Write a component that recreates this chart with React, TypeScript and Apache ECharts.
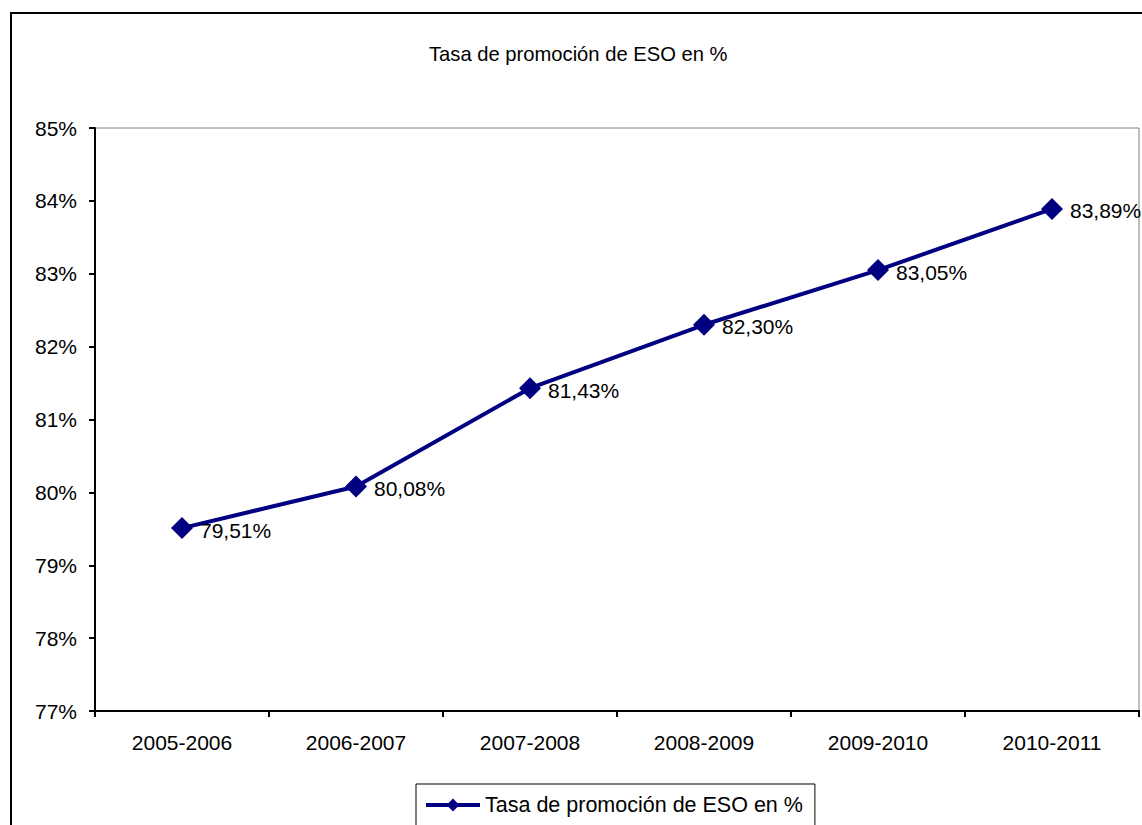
import React, { useEffect, useRef } from "react";
import * as echarts from "echarts";

const categories = ["2005-2006", "2006-2007", "2007-2008", "2008-2009", "2009-2010", "2010-2011"];
const values = [79.51, 80.08, 81.43, 82.3, 83.05, 83.89];
const seriesName = "Tasa de promoción de ESO en %";
const titleText = "Tasa de promoción de ESO en %";
const yMin = 77;
const yMax = 85;
const yInterval = 1;

const FONT = "Liberation Sans, Arial, sans-serif";

export default function App() {
  const ref = useRef<HTMLDivElement>(null);
  useEffect(() => {
    if (!ref.current) return;
    const chart = echarts.init(ref.current, undefined, { renderer: "svg" });
    chart.setOption({
      animation: false,
      backgroundColor: "#ffffff",
      title: {
        text: titleText,
        left: 424,
        top: 39,
        textStyle: { fontFamily: FONT, fontSize: 20.2, fontWeight: "normal", color: "#000" },
      },
      graphic: [
        {
          type: "rect",
          shape: { x: 11, y: 13, width: 1150, height: 900 },
          style: { fill: "none", stroke: "#000", lineWidth: 2 },
          silent: true,
        },
      ],
      grid: {
        left: 95,
        top: 128,
        right: 3,
        bottom: 114,
        show: true,
        borderColor: "#808080",
        borderWidth: 1,
        backgroundColor: "transparent",
      },
      legend: {
        left: 416,
        top: 784,
        padding: [10, 12, 14, 8],
        borderColor: "#000",
        borderWidth: 1,
        itemWidth: 54,
        itemHeight: 16,
        lineStyle: { width: 4, color: "#000080" },
        textStyle: { fontFamily: FONT, fontSize: 21.5, color: "#000" },
        data: [seriesName],
      },
      xAxis: {
        type: "category",
        data: categories,
        boundaryGap: true,
        axisLine: { lineStyle: { color: "#000", width: 2 } },
        axisTick: { show: true, interval: 0, length: 6, lineStyle: { color: "#000", width: 2 } },
        axisLabel: { interval: 0, margin: 21, fontFamily: FONT, fontSize: 21, color: "#000" },
        splitLine: { show: false },
      },
      yAxis: {
        type: "value",
        min: yMin,
        max: yMax,
        interval: yInterval,
        axisLine: { show: true, lineStyle: { color: "#000", width: 2 } },
        axisTick: { show: true, length: 6, lineStyle: { color: "#000", width: 2 } },
        axisLabel: { margin: 18, formatter: "{value}%", fontFamily: FONT, fontSize: 21, color: "#000" },
        splitLine: { show: false },
      },
      series: [
        {
          name: seriesName,
          type: "line",
          data: values,
          color: "#000080",
          lineStyle: { color: "#000080", width: 4 },
          symbol: "diamond",
          symbolSize: 22,
          itemStyle: { color: "#000080" },
          label: {
            show: true,
            position: "right",
            distance: 7,
            offset: [0, 2],
            fontFamily: FONT,
            fontSize: 21,
            color: "#000",
            formatter: (p: any) => p.value.toFixed(2).replace(".", ",") + "%",
          },
        },
      ],
    });
    return () => chart.dispose();
  }, []);
  return (
    <div
      ref={ref}
      style={{ position: "fixed", left: 0, top: 0, width: 1142, height: 825, background: "#fff" }}
    />
  );
}
